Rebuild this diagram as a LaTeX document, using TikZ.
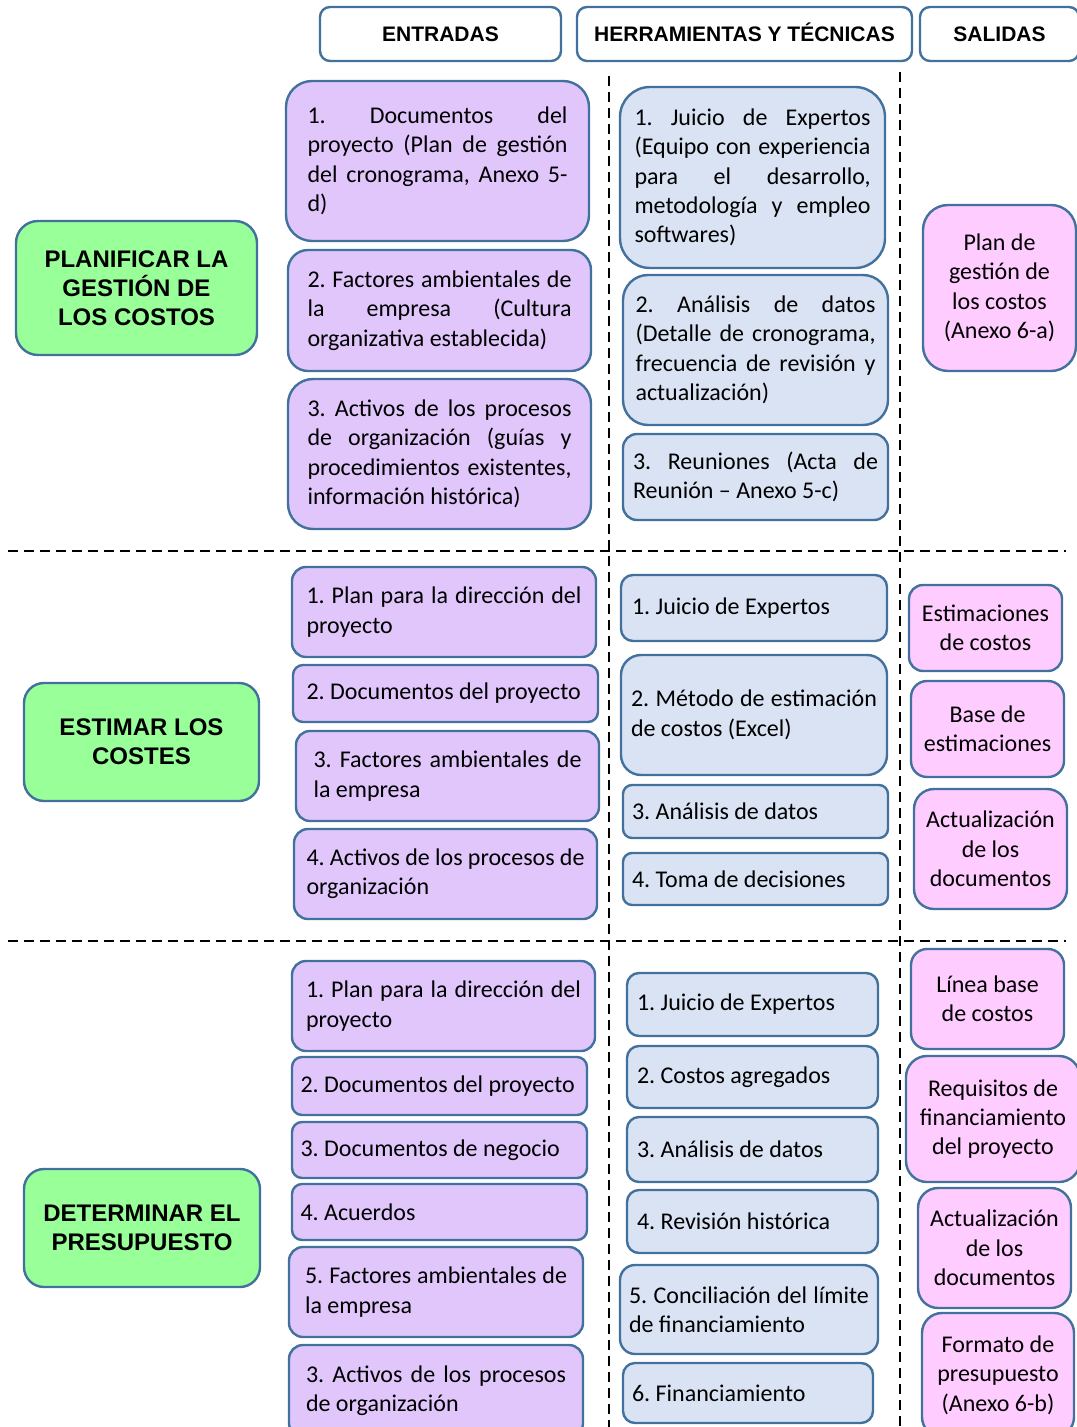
\documentclass[tikz,border=0pt]{standalone}
\usepackage{fontspec}
\setmainfont{Carlito}
\newfontfamily\arialfont{Liberation Sans}
\usepackage{xcolor}
\usepackage{tikz}

\definecolor{borde}{RGB}{65,113,156}
\definecolor{lila}{RGB}{225,198,252}
\definecolor{celeste}{RGB}{218,227,243}
\definecolor{rosa}{RGB}{255,204,255}
\definecolor{verde}{RGB}{153,255,153}

\tolerance=10000
\hbadness=10000
\hyphenpenalty=10000
\exhyphenpenalty=10000
\frenchspacing

\begin{document}
\begin{tikzpicture}[
    x=0.5pt, y=-0.5pt,
    cabecera/.style={rectangle, draw=borde, line width=1.2pt, fill=white, minimum height=27pt, text height=7.6pt, text depth=0pt, rounded corners=5pt, font=\arialfont\bfseries\fontsize{10.5}{12.5}\selectfont},
    proceso/.style={rectangle, draw=borde, line width=1.2pt, fill=verde, align=center, minimum width=118pt, minimum height=59pt, rounded corners=10pt, font=\arialfont\bfseries\fontsize{12}{14.5}\selectfont},
    entrada/.style={rectangle, draw=borde, line width=1.2pt, fill=lila, align=justify, rounded corners=7pt, font=\fontsize{12}{14.7}\selectfont},
    herramienta/.style={rectangle, draw=borde, line width=1.2pt, fill=celeste, align=justify, rounded corners=6pt, font=\fontsize{12}{14.7}\selectfont},
    salida/.style={rectangle, draw=borde, line width=1.2pt, fill=rosa, align=center, minimum width=76.5pt, rounded corners=8pt, font=\fontsize{12}{14.7}\selectfont},
    separador/.style={draw=black, line width=1.2pt, dash pattern=on 5pt off 3pt}
]
\useasboundingbox (0,0) rectangle (1076,1427);

% Separadores
\draw[separador] (8,551) -- (1066,551);
\draw[separador] (8,941) -- (1066,941);
\draw[separador] (609,76) -- (609,1427);
\draw[separador] (900,72) -- (900,1427);

% Cabeceras
\node[cabecera, minimum width=120.5pt] (hent) at (440.5,34) {ENTRADAS};
\node[cabecera, minimum width=167.5pt] (hher) at (744.5,34) {HERRAMIENTAS Y TÉCNICAS};
\node[cabecera, minimum width=79.5pt] (hsal) at (999.5,34) {SALIDAS};

% Planificar la gestion de los costos
\node[proceso, minimum width=120.5pt, minimum height=67pt, rounded corners=11pt] (plan) at (136.5,288) {PLANIFICAR LA\\GESTIÓN DE\\LOS COSTOS};

\node[entrada, text width=130pt, minimum width=151.5pt, minimum height=80pt, rounded corners=13pt] (pe1) at (437.5,161) {1. Documentos del\linebreak proyecto (Plan de gestión\linebreak del cronograma, Anexo 5-\linebreak d)};
\node[entrada, text width=132pt, minimum width=151.5pt, minimum height=60.5pt, rounded corners=10pt] (pe2) at (439.5,310.5) {2. Factores ambientales de\linebreak la empresa (Cultura\linebreak organizativa establecida)};
\node[entrada, text width=132pt, minimum width=151.5pt, minimum height=75pt, rounded corners=12.5pt] (pe3) at (439.5,454) {3. Activos de los procesos\linebreak de organización (guías y\linebreak procedimientos existentes,\linebreak información histórica)};

\node[herramienta, text width=118pt, minimum width=132.5pt, minimum height=90.5pt, rounded corners=15pt] (ph1) at (752.5,177.5) {1. Juicio de Expertos\linebreak (Equipo con experiencia\linebreak para el desarrollo,\linebreak metodología y empleo\linebreak softwares)};
\node[herramienta, text width=120pt, minimum width=132.5pt, minimum height=75pt, rounded corners=12.5pt] (ph2) at (755.5,350) {2. Análisis de datos\linebreak (Detalle de cronograma,\linebreak frecuencia de revisión y\linebreak actualización)};
\node[herramienta, text width=122.5pt, minimum width=132.5pt, minimum height=43pt, rounded corners=7pt] (ph3) at (755.5,477) {3. Reuniones (Acta de\linebreak Reunión – Anexo 5-c)};

\node[salida, minimum height=83pt, rounded corners=12.5pt] (ps1) at (999.5,288) {Plan de\\gestión de\\los costos\\(Anexo 6-a)};

% Estimar los costes
\node[proceso, minimum width=117.5pt] (estimar) at (141.5,742) {ESTIMAR LOS\\COSTES};

\node[entrada, text width=137.5pt, minimum width=152pt, minimum height=45pt] (ee1) at (444,612) {1. Plan para la dirección del\linebreak proyecto};
\node[entrada, text width=139pt, minimum width=152.5pt, minimum height=28.5pt, rounded corners=5pt] (ee2) at (445.5,693.5) {2. Documentos del proyecto};
\node[entrada, text width=134pt, minimum width=151.5pt, minimum height=45pt] (ee3) at (447.5,776) {3. Factores ambientales de\linebreak la empresa};
\node[entrada, text width=139pt, minimum width=151.5pt, minimum height=45pt] (ee4) at (445.5,874) {4. Activos de los procesos de\linebreak organización};

\node[herramienta, text width=122pt, minimum width=133pt, minimum height=33pt] (eh1) at (754,608) {1. Juicio de Expertos};
\node[herramienta, text width=123pt, minimum width=133pt, minimum height=60pt, rounded corners=10pt] (eh2) at (754,715) {2. Método de estimación\linebreak de costos (Excel)};
\node[herramienta, text width=123.5pt, minimum width=132.5pt, minimum height=26.5pt, rounded corners=4.5pt] (eh3) at (755.5,811.5) {3. Análisis de datos};
\node[herramienta, text width=123.5pt, minimum width=132.5pt, minimum height=26pt, rounded corners=4.5pt] (eh4) at (755.5,879) {4. Toma de decisiones};

\node[salida, minimum height=43pt, rounded corners=7pt] (es1) at (985.5,628) {Estimaciones\\de costos};
\node[salida, minimum height=48pt] (es2) at (987.5,729) {Base de\\estimaciones};
\node[salida, minimum height=60pt, rounded corners=10pt] (es3) at (990.5,849) {Actualización\\de los\\documentos};

% Determinar el presupuesto
\node[proceso] (determinar) at (142,1228) {DETERMINAR EL\\PRESUPUESTO};

\node[entrada, text width=137.5pt, minimum width=151.5pt, minimum height=45pt] (de1) at (443.5,1006) {1. Plan para la dirección del\linebreak proyecto};
\node[entrada, text width=139pt, minimum width=147.5pt, minimum height=29pt, rounded corners=5pt] (de2) at (439.5,1086) {2. Documentos del proyecto};
\node[entrada, text width=139pt, minimum width=147.5pt, minimum height=28pt, rounded corners=5pt] (de3) at (439.5,1150) {3. Documentos de negocio};
\node[entrada, text width=139pt, minimum width=147.5pt, minimum height=28pt, rounded corners=5pt] (de4) at (439.5,1212) {4. Acuerdos};
\node[entrada, text width=131pt, minimum width=147pt, minimum height=45pt] (de5) at (436,1292) {5. Factores ambientales de\linebreak la empresa};
\node[entrada, text width=130pt, minimum width=147pt, minimum height=46pt] (de6) at (436,1391) {3. Activos de los procesos\linebreak de organización};

\node[herramienta, text width=115.5pt, minimum width=125.5pt, minimum height=31.5pt] (dh1) at (752.5,1004.5) {1. Juicio de Expertos};
\node[herramienta, text width=115.5pt, minimum width=125.5pt, minimum height=31pt] (dh2) at (752.5,1077) {2. Costos agregados};
\node[herramienta, text width=115.5pt, minimum width=125.5pt, minimum height=32.5pt] (dh3) at (752.5,1149.5) {3. Análisis de datos};
\node[herramienta, text width=115.5pt, minimum width=125.5pt, minimum height=31.5pt] (dh4) at (752.5,1221.5) {4. Revisión histórica};
\node[herramienta, text width=120pt, minimum width=129pt, minimum height=44.5pt, rounded corners=7.5pt] (dh5) at (749,1309.5) {5. Conciliación del límite\linebreak de financiamiento};
\node[herramienta, text width=116pt, minimum width=125pt, minimum height=30pt] (dh6) at (748,1393) {6. Financiamiento};

\node[salida, minimum height=50pt] (ds1) at (987.5,999) {Línea base\\de costos};
\node[salida, minimum width=87pt, minimum height=63pt, rounded corners=10.5pt] (ds2) at (993,1119) {Requisitos de\\financiamiento\\del proyecto};
\node[salida, minimum height=60pt, rounded corners=10pt] (ds3) at (994.5,1248) {Actualización\\de los\\documentos};
\node[salida, minimum width=76pt, minimum height=62pt, rounded corners=10pt] (ds4) at (998,1375) {Formato de\\presupuesto\\(Anexo 6-b)};

\end{tikzpicture}
\end{document}
